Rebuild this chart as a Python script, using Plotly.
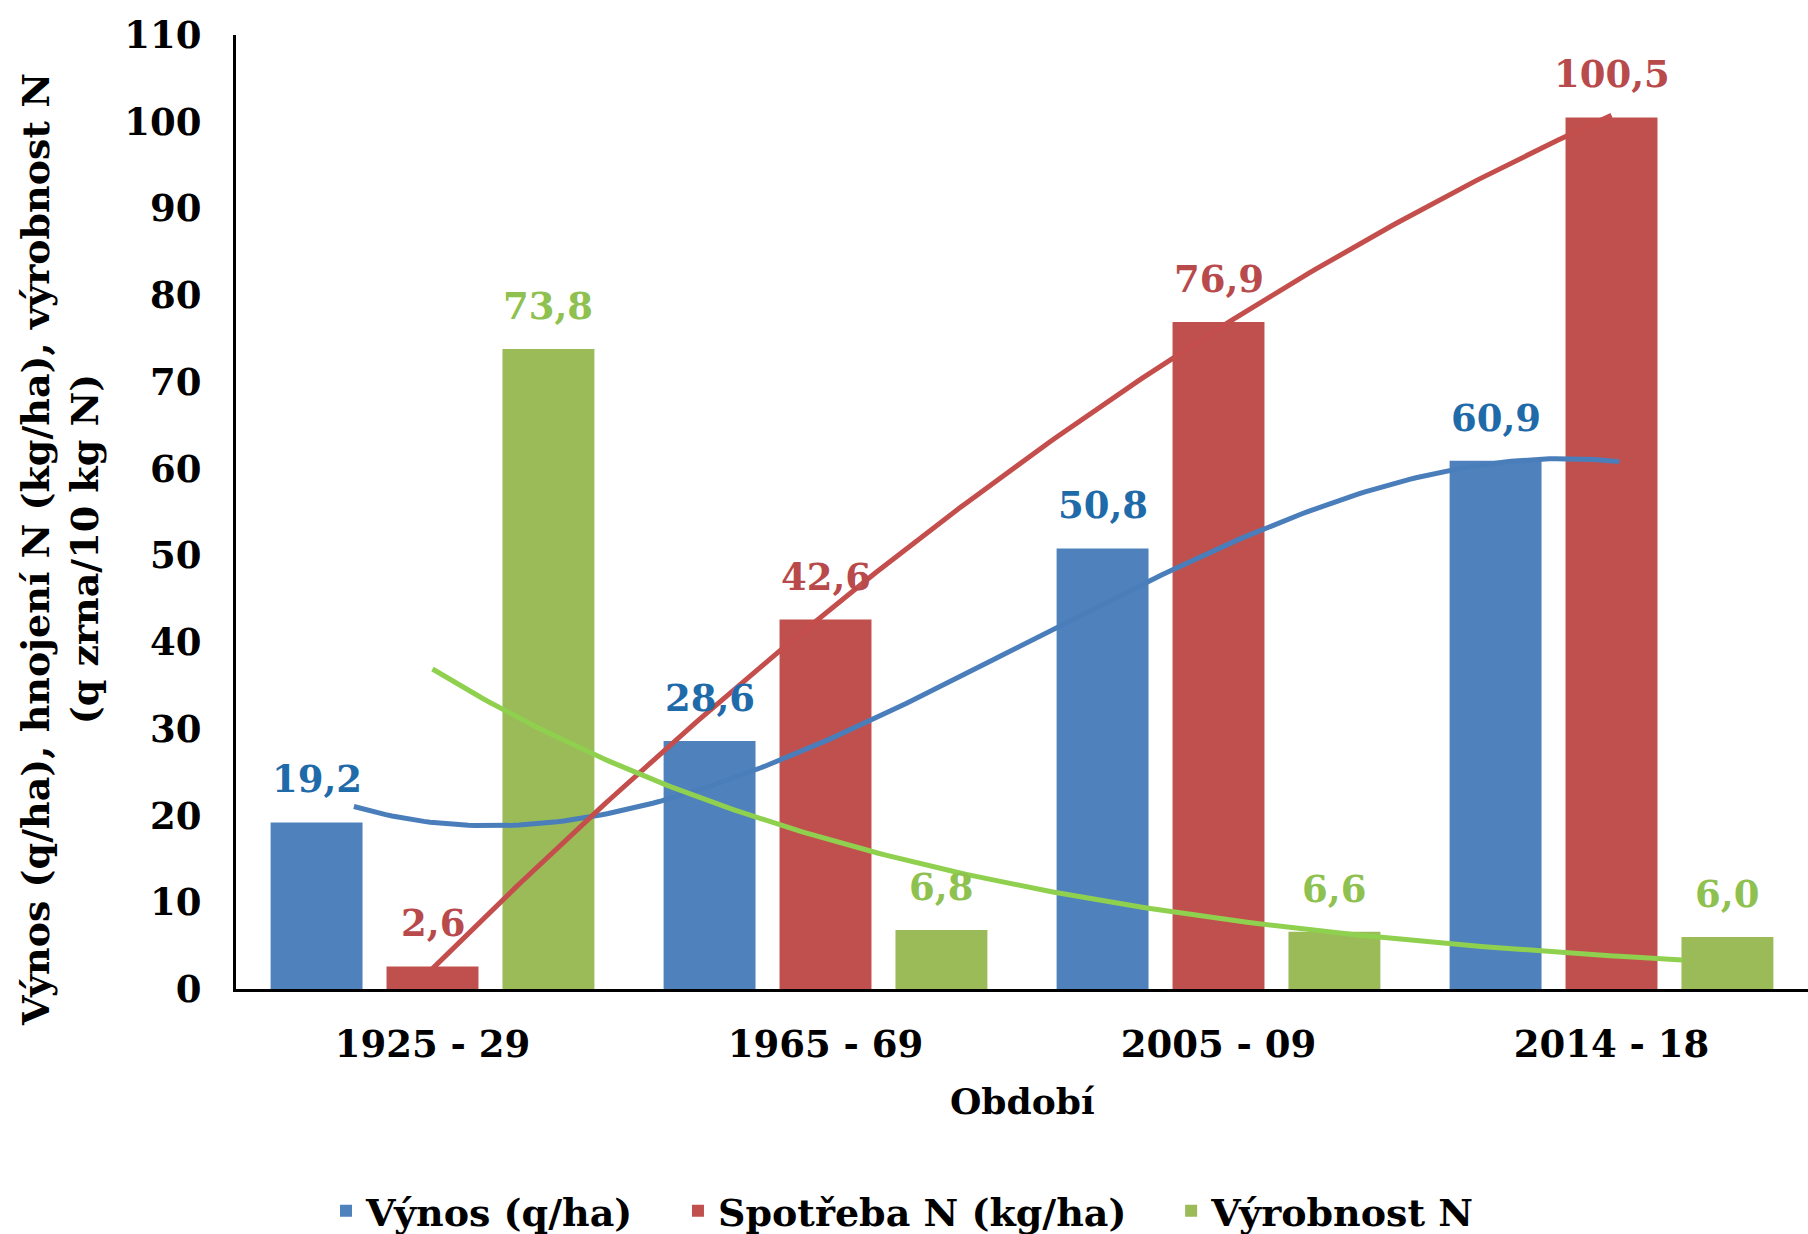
import numpy as np
import plotly.graph_objects as go

# Periods and values
periods = ["1925 - 29", "1965 - 69", "2005 - 09", "2014 - 18"]
vynos = [19.2, 28.6, 50.8, 60.9]          # q/ha
spotreba = [2.6, 42.6, 76.9, 100.5]       # kg N/ha
vyrobnost = [73.8, 6.8, 6.6, 6.0]         # q zrna / 10 kg N

y_ticks = list(range(0, 111, 10))

FONT = "DejaVu Serif"
BAR_COLORS = ["#4F81BD", "#C0504D", "#9BBB59"]
LABEL_COLORS = ["#1F6BAA", "#B84A4C", "#8FC150"]
TREND_COLORS = ["#4A7EBB", "#C44E4C", "#8FD04F"]

xs = np.arange(len(periods), dtype=float)

fig = go.Figure()

NBSP = "\u00a0"
series = [
    ("Výnos (q/ha)", vynos),
    ("Spotřeba N (kg/ha)", spotreba),
    ("Výrobnost N", vyrobnost),
]
for (name, vals), col in zip(series, BAR_COLORS):
    fig.add_trace(go.Bar(
        x=xs, y=vals, name=name + NBSP * 3,
        marker=dict(color=col, line=dict(width=0)),
    ))

def fmt(v):
    return f"{v:.1f}".replace(".", ",")

# Výnos trend: cubic polynomial
c_v = np.polyfit(xs, vynos, 3)
t_v = np.linspace(-0.2, 3.02, 200)
fig.add_trace(go.Scatter(x=t_v, y=np.polyval(c_v, t_v), mode="lines",
                         line=dict(color=TREND_COLORS[0], width=5),
                         showlegend=False, hoverinfo="skip"))

# Spotřeba trend: quadratic polynomial
c_s = np.polyfit(xs, spotreba, 2)
t_s = np.linspace(0.0, 3.0, 200)
fig.add_trace(go.Scatter(x=t_s, y=np.polyval(c_s, t_s), mode="lines",
                         line=dict(color=TREND_COLORS[1], width=5),
                         showlegend=False, hoverinfo="skip"))

# Výrobnost trend: exponential
b, a = np.polyfit(xs, np.log(vyrobnost), 1)
t_e = np.linspace(0.0, 3.18, 200)
fig.add_trace(go.Scatter(x=t_e, y=np.exp(a + b * t_e), mode="lines",
                         line=dict(color=TREND_COLORS[2], width=5),
                         showlegend=False, hoverinfo="skip"))

# Data labels above each bar
slot = 0.295
annotations = []
for j, ((name, vals), lc) in enumerate(zip(series, LABEL_COLORS)):
    for i, v in enumerate(vals):
        annotations.append(dict(
            x=xs[i] + (j - 1) * slot, y=v, xref="x", yref="y",
            text=fmt(v), showarrow=False, yanchor="middle", yshift=43,
            font=dict(family=FONT, size=37, color=lc, weight="bold"),
        ))

plot_h = 1234 - 35 - 245
annotations.append(dict(
    text="Výnos (q/ha), hnojení N (kg/ha), výrobnost N<br>(q zrna/10 kg N)",
    textangle=-90, xref="paper", yref="paper",
    x=(60 - 236) / 1572, y=(989 - 550) / plot_h,
    xanchor="center", yanchor="middle", showarrow=False,
    font=dict(family=FONT, size=38, color="black", weight="bold"),
))
annotations.append(dict(
    text="Období", xref="paper", yref="paper",
    x=0.5, y=(989 - 1101) / plot_h, xanchor="center", yanchor="middle",
    showarrow=False,
    font=dict(family=FONT, size=36, color="black", weight="bold"),
))

fig.update_layout(
    width=1808, height=1234,
    margin=dict(l=236, r=0, t=35, b=245, autoexpand=False),
    paper_bgcolor="white", plot_bgcolor="white",
    barmode="group", bargap=0.115, bargroupgap=0.207,
    font=dict(family=FONT, size=37, color="black", weight="bold"),
    annotations=annotations,
    legend=dict(
        orientation="h", x=(326 - 236) / 1572, xanchor="left",
        y=(989 - 1211) / plot_h, yanchor="middle",
        font=dict(family=FONT, size=38, color="black", weight="bold"),
        traceorder="normal",
    ),
    showlegend=True,
)

fig.update_xaxes(
    range=[-0.5, 3.5], tickvals=xs, ticktext=periods,
    showline=True, linecolor="black", linewidth=3, ticks="",
    showgrid=False, zeroline=False, ticklabelstandoff=21,
)
fig.update_yaxes(
    range=[0, 110], tickvals=y_ticks,
    showline=True, linecolor="black", linewidth=3, ticks="",
    showgrid=False, zeroline=False, ticklabelstandoff=24,
)

fig.write_html("out.html")
